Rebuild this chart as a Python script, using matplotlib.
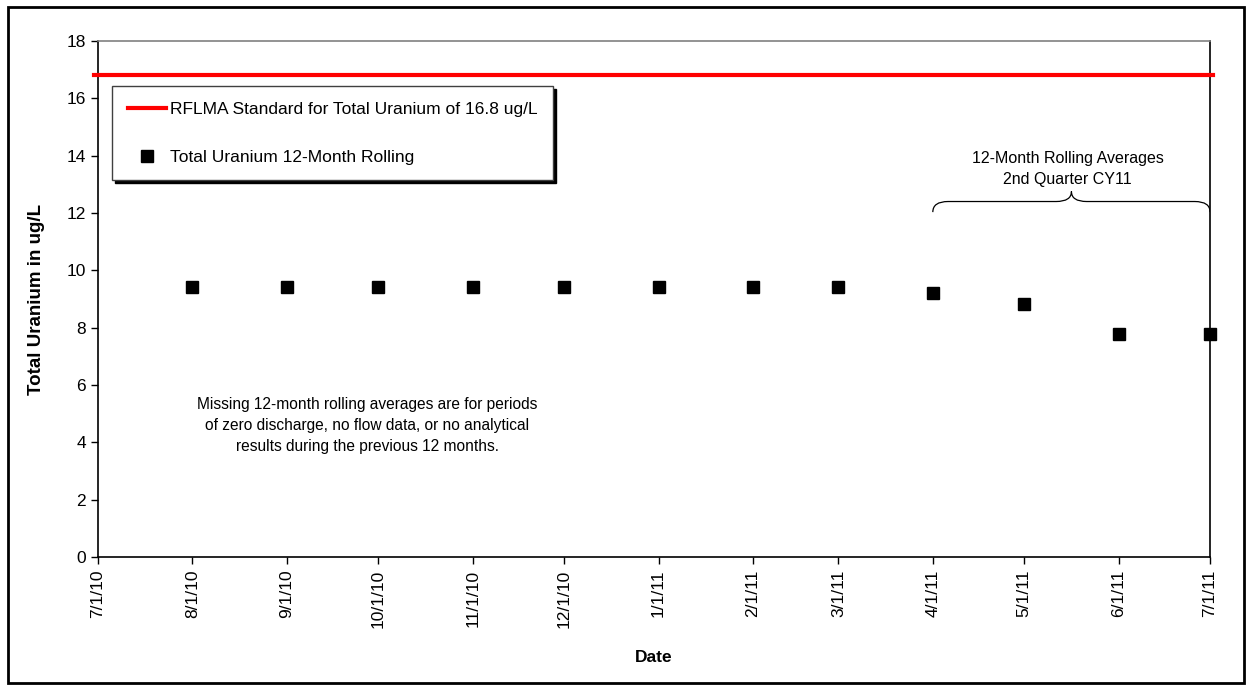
import numpy as np
import matplotlib
matplotlib.use("Agg")
import matplotlib.pyplot as plt
import matplotlib.dates as mdates
from matplotlib.path import Path
from matplotlib.patches import PathPatch, Rectangle
from datetime import date

plt.rcParams['font.family'] = ['Liberation Sans', 'DejaVu Sans']

# data
tick_dates = [date(2010, 7, 1), date(2010, 8, 1), date(2010, 9, 1), date(2010, 10, 1),
              date(2010, 11, 1), date(2010, 12, 1), date(2011, 1, 1), date(2011, 2, 1),
              date(2011, 3, 1), date(2011, 4, 1), date(2011, 5, 1), date(2011, 6, 1),
              date(2011, 7, 1)]
tick_labels = ["7/1/10", "8/1/10", "9/1/10", "10/1/10", "11/1/10", "12/1/10", "1/1/11",
               "2/1/11", "3/1/11", "4/1/11", "5/1/11", "6/1/11", "7/1/11"]
point_dates = tick_dates[1:]
uranium = [9.42, 9.42, 9.42, 9.42, 9.42, 9.42, 9.42, 9.42, 9.21, 8.82, 7.78, 7.78]
standard = 16.8

fig = plt.figure(figsize=(12.52, 6.9), dpi=100)
ax = fig.add_axes([0.0783, 0.1928, 0.8882, 0.7478])

# outer border of the figure
fig.patches.append(Rectangle((0.006, 0.01), 0.988, 0.98, transform=fig.transFigure,
                             fill=False, edgecolor='black', linewidth=2))

ax.axhline(standard, xmin=-0.004, xmax=1.003, color='#ff0000', linewidth=3,
           clip_on=False, label="RFLMA Standard for Total Uranium of 16.8 ug/L", zorder=3)
ax.plot(mdates.date2num(point_dates), uranium, linestyle='none', marker='s',
        markersize=8.5, color='black', clip_on=False, zorder=4,
        label="Total Uranium 12-Month Rolling")

ax.set_xlim(mdates.date2num(tick_dates[0]), mdates.date2num(tick_dates[-1]))
ax.set_ylim(0, 18)
ax.set_yticks(np.arange(0, 19, 2))
ax.set_xticks(mdates.date2num(tick_dates))
ax.set_xticklabels(tick_labels, rotation=90)
ax.tick_params(axis='both', direction='out', length=5, width=1, labelsize=12.5, colors='black')
ax.tick_params(axis='x', pad=4)

ax.spines['top'].set_color('#808080')
for s in ['left', 'bottom', 'right']:
    ax.spines[s].set_color('black')
for s in ax.spines.values():
    s.set_linewidth(1.2)

ax.set_ylabel("Total Uranium in ug/L", fontsize=13.5, fontweight='bold')
ax.yaxis.set_label_coords(-0.048, 0.5)
ax.set_xlabel("Date", fontsize=12.5, fontweight='bold')
ax.xaxis.set_label_coords(0.5, -0.18)

leg = ax.legend(loc='upper left', bbox_to_anchor=(0.0126, 0.913), fontsize=12.5,
                frameon=True, fancybox=False, framealpha=1, edgecolor='#404040',
                shadow={'color': 'black', 'alpha': 1}, labelspacing=1.9,
                handlelength=2.2, handletextpad=0.25, borderpad=0.9, borderaxespad=0)
leg.get_frame().set_linewidth(1)

ax.text(0.242, 0.254, "Missing 12-month rolling averages are for periods\n"
        "of zero discharge, no flow data, or no analytical\n"
        "results during the previous 12 months.",
        transform=ax.transAxes, ha='center', va='center', fontsize=11.2, linespacing=1.5)

ax.text(0.872, 0.752, "12-Month Rolling Averages\n2nd Quarter CY11",
        transform=ax.transAxes, ha='center', va='center', fontsize=11.5, linespacing=1.5)

# curly brace over 2nd quarter points
x0 = mdates.date2num(date(2011, 4, 1))
x1 = mdates.date2num(date(2011, 7, 1))
xm = (x0 + x1) / 2
ylo, ymid, yhi = 12.03, 12.4, 12.75
w = 5.0
verts = [(x0, ylo), (x0, ymid), (x0 + w, ymid), (x0 + w, ymid),
         (xm - w, ymid), (xm - w, ymid), (xm, ymid), (xm, yhi),
         (xm, ymid), (xm + w, ymid), (xm + w, ymid),
         (x1 - w, ymid), (x1 - w, ymid), (x1, ymid), (x1, ylo)]
codes = [Path.MOVETO, Path.CURVE3, Path.CURVE3, Path.LINETO,
         Path.LINETO, Path.LINETO, Path.CURVE3, Path.CURVE3,
         Path.CURVE3, Path.CURVE3, Path.LINETO,
         Path.LINETO, Path.LINETO, Path.CURVE3, Path.CURVE3]
ax.add_patch(PathPatch(Path(verts, codes), fill=False, edgecolor='black', linewidth=0.9))

fig.savefig("out.png", dpi=100)
